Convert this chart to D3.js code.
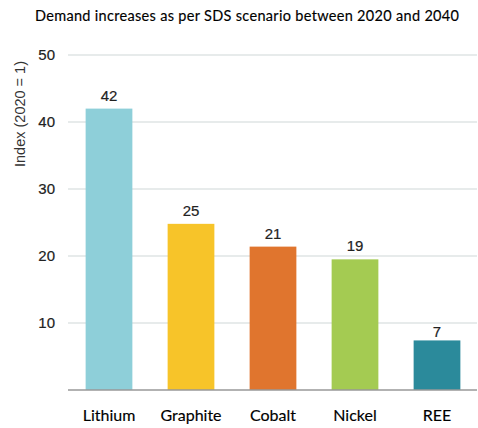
<!DOCTYPE html>
<html>
<head>
<meta charset="utf-8">
<script src="https://cdn.jsdelivr.net/npm/d3@7"></script>
<style>
  body { margin: 0; background: #fff; }
  svg { display: block; }
</style>
</head>
<body>
<svg width="478" height="428"></svg>
<script>
const width = 478;
const height = 428;
const margin = { top: 55, right: 0, bottom: 38, left: 68 };
const innerWidth = width - margin.left - margin.right;
const innerHeight = height - margin.top - margin.bottom;

// data
const minerals = ["Lithium", "Graphite", "Cobalt", "Nickel", "REE"];
const demandIndex = [42, 24.8, 21.4, 19.5, 7.4];
const barLabels = ["42", "25", "21", "19", "7"];
const barColors = ["#8ecfd9", "#f7c429", "#e0752e", "#a4cb52", "#2b8a9b"];
const yTicks = [10, 20, 30, 40, 50];

const svg = d3.select("svg");
const g = svg.append("g")
    .attr("transform", `translate(${margin.left}, ${margin.top})`);

const x = d3.scaleBand()
    .domain(minerals)
    .range([0, innerWidth])
    .paddingInner(0.43)
    .paddingOuter(0.215);

const y = d3.scaleLinear().domain([0, 50]).range([innerHeight, 0]);

// title
svg.append("text")
    .attr("x", 247)
    .attr("y", 21)
    .attr("text-anchor", "middle")
    .attr("font-family", "Lato, 'Open Sans', sans-serif")
    .attr("font-size", 14.5)
    .attr("fill", "#000")
    .attr("stroke", "#000")
    .attr("stroke-width", 0.15)
    .attr("textLength", 424)
    .text("Demand increases as per SDS scenario between 2020 and 2040");

// gridlines
g.selectAll(".grid")
    .data(yTicks)
    .join("line")
    .attr("x1", 0)
    .attr("x2", innerWidth - 1)
    .attr("y1", d => y(d))
    .attr("y2", d => y(d))
    .attr("stroke", "#dfe4e4")
    .attr("stroke-width", 1.5);

// y tick labels
g.selectAll(".ytick")
    .data(yTicks)
    .join("text")
    .attr("x", -13)
    .attr("y", d => y(d))
    .attr("dy", "0.35em")
    .attr("text-anchor", "end")
    .attr("font-family", "Liberation Sans, Arial, sans-serif")
    .attr("font-size", 15)
    .attr("fill", "#222")
    .attr("stroke", "#222")
    .attr("stroke-width", 0.2)
    .text(d => d);

// y axis title
svg.append("text")
    .attr("transform", "translate(25, 114) rotate(-90)")
    .attr("text-anchor", "middle")
    .attr("font-family", "Liberation Sans, Arial, sans-serif")
    .attr("font-size", 14.5)
    .attr("fill", "#333")
    .text("Index (2020 = 1)");

// bars
g.selectAll(".bar")
    .data(minerals)
    .join("rect")
    .attr("x", d => x(d))
    .attr("width", x.bandwidth())
    .attr("y", (d, i) => y(demandIndex[i]))
    .attr("height", (d, i) => innerHeight - y(demandIndex[i]))
    .attr("fill", (d, i) => barColors[i]);

// value labels: sit above the bar, but drop below a gridline if they would cross it
const labelY = (v) => {
    let base = y(v) - 8;
    const hit = yTicks.find(t => y(t) < base && y(t) > base - 12);
    if (hit !== undefined) base = y(hit) + 14;
    return base;
};

g.selectAll(".val")
    .data(minerals)
    .join("text")
    .attr("x", d => x(d) + x.bandwidth() / 2)
    .attr("y", (d, i) => labelY(demandIndex[i]))
    .attr("text-anchor", "middle")
    .attr("font-family", "Liberation Sans, Arial, sans-serif")
    .attr("font-size", 15)
    .attr("fill", "#222")
    .attr("stroke", "#222")
    .attr("stroke-width", 0.2)
    .text((d, i) => barLabels[i]);

// baseline
g.append("line")
    .attr("x1", 0)
    .attr("x2", innerWidth - 1)
    .attr("y1", innerHeight)
    .attr("y2", innerHeight)
    .attr("stroke", "#999")
    .attr("stroke-width", 1.5);

// category labels
g.selectAll(".cat")
    .data(minerals)
    .join("text")
    .attr("x", d => x(d) + x.bandwidth() / 2)
    .attr("y", innerHeight + 31)
    .attr("text-anchor", "middle")
    .attr("font-family", "Lato, 'Open Sans', sans-serif")
    .attr("font-size", 16)
    .attr("fill", "#000")
    .attr("stroke", "#000")
    .attr("stroke-width", 0.15)
    .text(d => d);
</script>
</body>
</html>
